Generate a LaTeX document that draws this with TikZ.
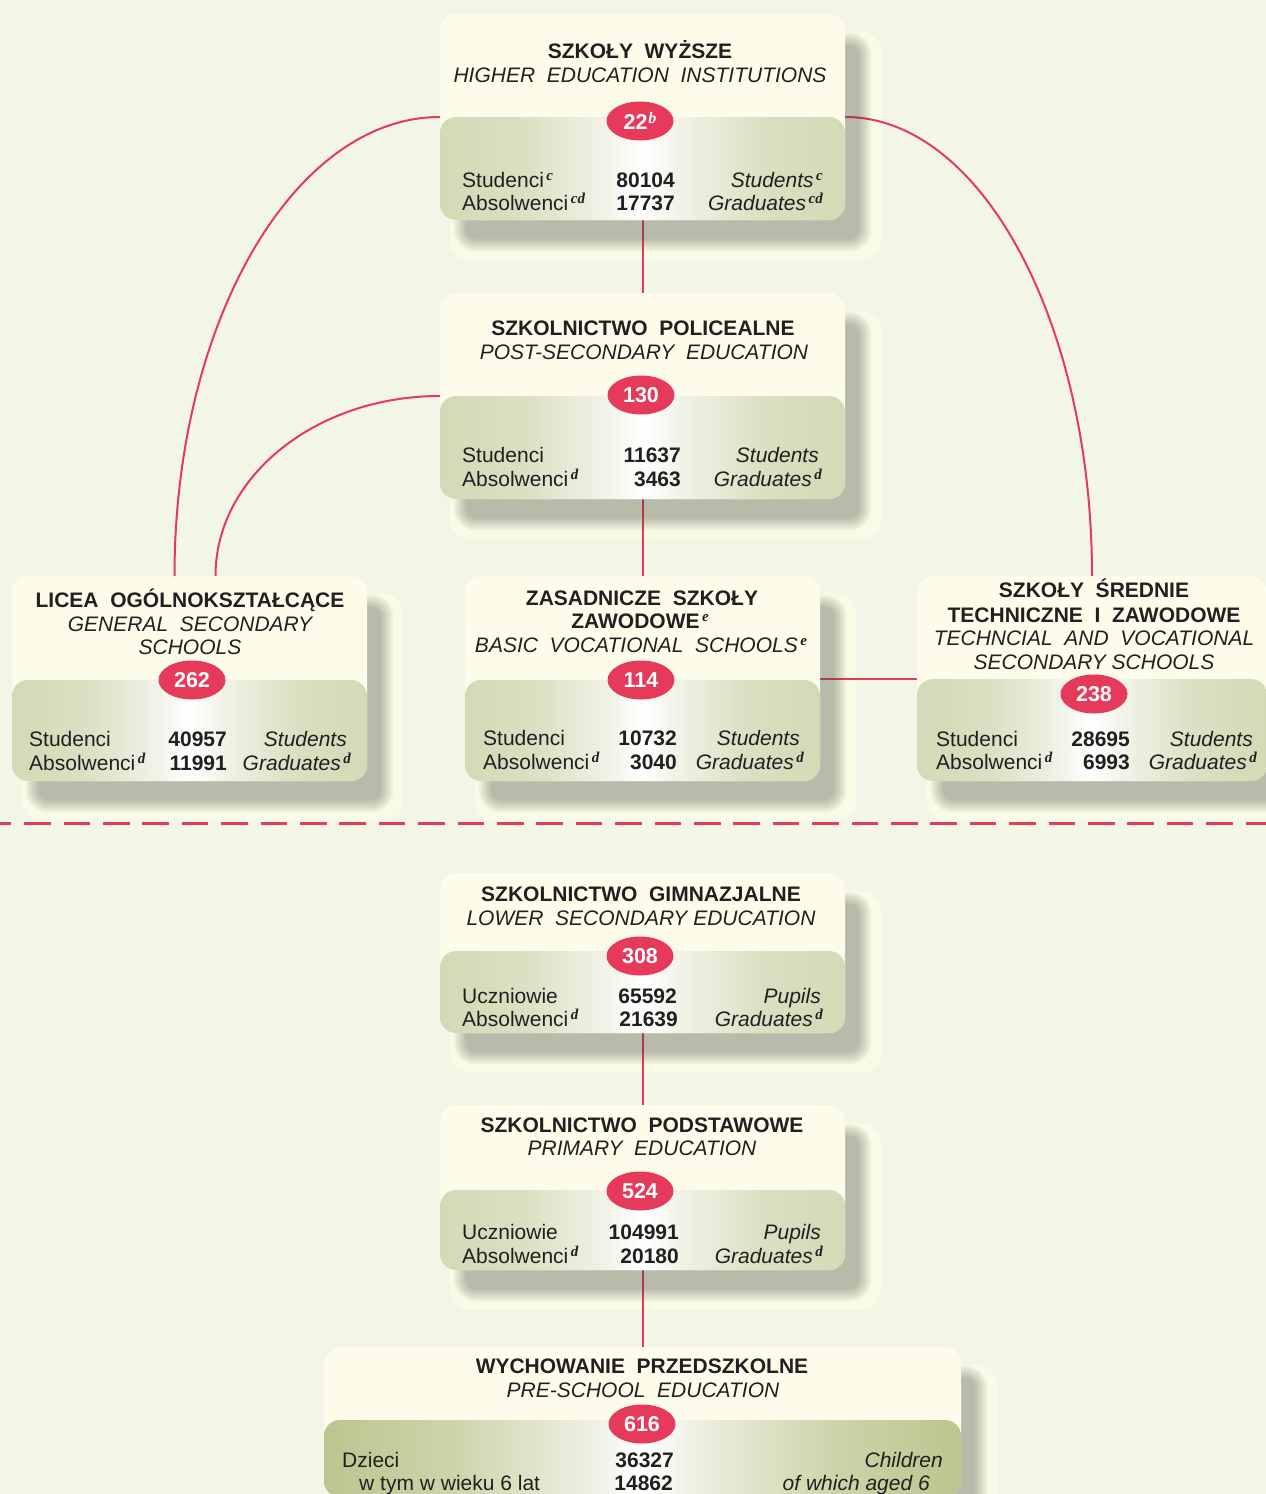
\documentclass[tikz,border=0pt]{standalone}
\usepackage{fontspec}
\setmainfont{Liberation Sans}
\newfontfamily\supfont{Liberation Serif}
\usetikzlibrary{shapes.geometric,calc}
\definecolor{bgc}{HTML}{F3F6E7}
\definecolor{glowc}{HTML}{F8FCE6}
\definecolor{cream}{HTML}{FDFCEA}
\definecolor{gA}{HTML}{D3DAB6}
\definecolor{gC}{HTML}{BCC58E}
\definecolor{redc}{HTML}{E63A5A}
\definecolor{txt}{HTML}{231F20}
\definecolor{shadc}{HTML}{3A3D33}
\pgfdeclarehorizontalshading{gradA}{100bp}{color(0bp)=(gA); color(25bp)=(gA); color(35bp)=(gA!85!white); color(45bp)=(gA!35!white); color(50bp)=(white); color(55bp)=(gA!35!white); color(65bp)=(gA!85!white); color(75bp)=(gA); color(100bp)=(gA)}
\pgfdeclarehorizontalshading{gradC}{100bp}{color(0bp)=(gC); color(25bp)=(gC); color(35bp)=(gC!75!white); color(45bp)=(gC!30!white); color(50bp)=(white); color(55bp)=(gC!30!white); color(65bp)=(gC!75!white); color(75bp)=(gC); color(100bp)=(gC)}
\newcommand\supx[1]{\hspace{2.5pt}\raisebox{7pt}{\supfont\bfseries\itshape\fontsize{15}{15}\selectfont #1}}
\pgfdeclarelayer{back}
\pgfdeclarelayer{conn}
\pgfdeclarelayer{shad}
\pgfsetlayers{back,conn,shad,main}
\tikzset{
  edubox/.style 2 args={rectangle, rounded corners=16pt, fill=cream, inner sep=0pt, draw=none,
    path picture={\shade[shading=#2] ([yshift=-#1pt]path picture bounding box.north west) rectangle (path picture bounding box.south east);}},
  tb/.style={anchor=base, inner sep=0pt, text=txt, font=\bfseries\fontsize{21}{24}\selectfont},
  ti/.style={anchor=base, inner sep=0pt, text=txt, font=\itshape\fontsize{21}{24}\selectfont},
  dl/.style={anchor=base west, inner sep=0pt, text=txt, font=\fontsize{21}{24}\selectfont},
  dn/.style={anchor=base east, inner sep=0pt, text=txt, font=\bfseries\fontsize{21}{24}\selectfont},
  dr/.style={anchor=base east, inner sep=0pt, text=txt, font=\itshape\fontsize{21}{24}\selectfont},
  oval/.style={ellipse, fill=redc, minimum width=67pt, minimum height=39pt, inner sep=0pt, text=white, font=\bfseries\fontsize{21.5}{22}\selectfont},
  conn/.style={draw=redc, line width=2pt},
  glow/.style={fill=glowc, rounded corners=20pt}
}
\begin{document}
\begin{tikzpicture}[x=1pt,y=1pt]
\useasboundingbox (0,0) rectangle (1266,-1494);
\begin{pgfonlayer}{back}
\fill[bgc] (0,0) rectangle (1266,-1494);
\end{pgfonlayer}

% boxes
\node[edubox={103}{gradA}, minimum width=405pt, minimum height=206pt] (b1) at (642.5,-117) {};
\node[edubox={103}{gradA}, minimum width=405pt, minimum height=206pt] (b2) at (642.5,-396) {};
\node[edubox={104}{gradA}, minimum width=355pt, minimum height=205pt] (b3) at (189.5,-678.5) {};
\node[edubox={104}{gradA}, minimum width=355pt, minimum height=205pt] (b4) at (642.5,-678.5) {};
\node[edubox={103}{gradA}, minimum width=350pt, minimum height=205pt] (b5) at (1092,-678.5) {};
\node[edubox={78}{gradA}, minimum width=405pt, minimum height=160pt] (b6) at (642.5,-953) {};
\node[edubox={85}{gradA}, minimum width=405pt, minimum height=165pt] (b7) at (642.5,-1187.5) {};
\node[edubox={73}{gradC}, minimum width=637pt, minimum height=150pt] (b8) at (642.5,-1422) {};

% glows
\begin{pgfonlayer}{back}
\foreach \b in {b1,b2,b3,b4,b5,b6,b7,b8}{
  \fill[glow] ($(\b.north west)+(10pt,-18pt)$) rectangle ($(\b.south east)+(36pt,-40pt)$);
}
\end{pgfonlayer}

% soft shadows
\begin{pgfonlayer}{shad}
\foreach \b in {b1,b2,b3,b4,b5,b6,b7,b8}{
  \foreach \k in {0,...,6}{
    \pgfmathsetmacro\rr{6-2*\k}
    \pgfmathsetmacro\rc{max(16+\rr,3)}
    \pgfmathsetmacro\xa{20-\rr}
    \pgfmathsetmacro\ya{-25+\rr}
    \pgfmathsetmacro\xb{20+\rr}
    \pgfmathsetmacro\yb{-25-\rr}
    \fill[shadc, fill opacity=0.053, rounded corners=\rc pt] ($(\b.north west)+(\xa pt,\ya pt)$) rectangle ($(\b.south east)+(\xb pt,\yb pt)$);
  }
}
\end{pgfonlayer}

% connectors
\begin{pgfonlayer}{conn}
\draw[conn] (b1.south) -- (b2.north);
\draw[conn] (b2.south) -- (b4.north);
\draw[conn] (b6.south) -- (b7.north);
\draw[conn] (b7.south) -- (b8.north);
\draw[conn] (b4.east) -- (b5.west);
\draw[conn] (b1.west) .. controls ($(b1.west)+(-146pt,0pt)$) and ($(b3.north)+(-15pt,253pt)$) .. ($(b3.north)+(-15pt,0pt)$);
\draw[conn] (b2.west) .. controls ($(b2.west)+(-124pt,0pt)$) and ($(b3.north)+(26pt,99pt)$) .. ($(b3.north)+(26pt,0pt)$);
\draw[conn] (b1.east) .. controls ($(b1.east)+(136pt,0pt)$) and ($(b5.north)+(0pt,253pt)$) .. (b5.north);
\coordinate (dashL) at (0,-823);
\coordinate (dashR) at (1266,-823);
\draw[redc, line width=3pt, dash pattern=on 26.7pt off 12.7pt, dash phase=15.3pt] (dashL) -- (dashR);
\end{pgfonlayer}

% box 1
\node[tb] (t1a) at (640,-58) {SZKOŁY~~WYŻSZE};
\node[ti] (t1b) at (640,-82) {HIGHER~~EDUCATION~~INSTITUTIONS};
\node[oval] (o1) at (640,-121) {22\hspace{1pt}\raisebox{6pt}{\supfont\bfseries\itshape\fontsize{16}{16}\selectfont b}};
\node[dl] (l1a) at (462,-187) {Studenci\supx{c}};
\node[dl] (l1b) at (462,-210) {Absolwenci\supx{cd}};
\node[dn] (n1a) at (675,-187) {80104};
\node[dn] (n1b) at (675,-210) {17737};
\node[dr] (r1a) at (823,-187) {Students\supx{c}};
\node[dr] (r1b) at (823,-210) {Graduates\supx{cd}};

% box 2
\node[tb] (t2a) at (643,-335) {SZKOLNICTWO~~POLICEALNE};
\node[ti] (t2b) at (644,-359) {POST-SECONDARY~~EDUCATION};
\node[oval] (o2) at (641,-395) {130};
\node[dl] (l2a) at (462,-462) {Studenci};
\node[dl] (l2b) at (462,-486) {Absolwenci\supx{d}};
\node[dn] (n2a) at (681,-462) {11637};
\node[dn] (n2b) at (681,-486) {3463};
\node[dr] (r2a) at (819,-462) {Students};
\node[dr] (r2b) at (822,-486) {Graduates\supx{d}};

% box 3
\node[tb] (t3a) at (190,-607) {LICEA~~OGÓLNOKSZTAŁCĄCE};
\node[ti] (t3b) at (190,-631) {GENERAL~~SECONDARY};
\node[ti] (t3c) at (190,-654) {SCHOOLS};
\node[oval] (o3) at (192,-680) {262};
\node[dl] (l3a) at (29,-746) {Studenci};
\node[dl] (l3b) at (29,-770) {Absolwenci\supx{d}};
\node[dn] (n3a) at (227,-746) {40957};
\node[dn] (n3b) at (227,-770) {11991};
\node[dr] (r3a) at (347,-746) {Students};
\node[dr] (r3b) at (351,-770) {Graduates\supx{d}};

% box 4
\node[tb] (t4a) at (642,-605) {ZASADNICZE~~SZKOŁY};
\node[tb] (t4b) at (640,-628) {ZAWODOWE\supx{e}};
\node[ti] (t4c) at (641,-652) {BASIC~~VOCATIONAL~~SCHOOLS\supx{e}};
\node[oval] (o4) at (641,-680) {114};
\node[dl] (l4a) at (483,-745) {Studenci};
\node[dl] (l4b) at (483,-769) {Absolwenci\supx{d}};
\node[dn] (n4a) at (677,-745) {10732};
\node[dn] (n4b) at (677,-769) {3040};
\node[dr] (r4a) at (800,-745) {Students};
\node[dr] (r4b) at (804,-769) {Graduates\supx{d}};

% box 5
\node[tb] (t5a) at (1094,-597) {SZKOŁY~~ŚREDNIE};
\node[tb] (t5b) at (1094,-622) {TECHNICZNE~~I~~ZAWODOWE};
\node[ti] (t5c) at (1094,-645) {TECHNCIAL~~AND~~VOCATIONAL};
\node[ti] (t5d) at (1094,-669) {SECONDARY SCHOOLS};
\node[oval] (o5) at (1094,-694) {238};
\node[dl] (l5a) at (936,-746) {Studenci};
\node[dl] (l5b) at (936,-769) {Absolwenci\supx{d}};
\node[dn] (n5a) at (1130,-746) {28695};
\node[dn] (n5b) at (1130,-769) {6993};
\node[dr] (r5a) at (1253,-746) {Students};
\node[dr] (r5b) at (1257,-769) {Graduates\supx{d}};

% box 6
\node[tb] (t6a) at (641,-901) {SZKOLNICTWO~~GIMNAZJALNE};
\node[ti] (t6b) at (641,-925) {LOWER~~SECONDARY EDUCATION};
\node[oval] (o6) at (640,-956) {308};
\node[dl] (l6a) at (462,-1003) {Uczniowie};
\node[dl] (l6b) at (462,-1026) {Absolwenci\supx{d}};
\node[dn] (n6a) at (677,-1003) {65592};
\node[dn] (n6b) at (678,-1026) {21639};
\node[dr] (r6a) at (821,-1003) {Pupils};
\node[dr] (r6b) at (823,-1026) {Graduates\supx{d}};

% box 7
\node[tb] (t7a) at (642,-1132) {SZKOLNICTWO~~PODSTAWOWE};
\node[ti] (t7b) at (642,-1155) {PRIMARY~~EDUCATION};
\node[oval] (o7) at (640,-1191) {524};
\node[dl] (l7a) at (462,-1239) {Uczniowie};
\node[dl] (l7b) at (462,-1263) {Absolwenci\supx{d}};
\node[dn] (n7a) at (679,-1239) {104991};
\node[dn] (n7b) at (679,-1263) {20180};
\node[dr] (r7a) at (821,-1239) {Pupils};
\node[dr] (r7b) at (823,-1263) {Graduates\supx{d}};

% box 8
\node[tb] (t8a) at (642,-1373) {WYCHOWANIE~~PRZEDSZKOLNE};
\node[ti] (t8b) at (643,-1397) {PRE-SCHOOL~~EDUCATION};
\node[oval] (o8) at (642,-1424) {616};
\node[dl] (l8a) at (342,-1467) {Dzieci};
\node[dl] (l8b) at (359,-1490) {w tym w wieku 6 lat};
\node[dn] (n8a) at (674,-1467) {36327};
\node[dn] (n8b) at (673,-1490) {14862};
\node[dr] (r8a) at (943,-1467) {Children};
\node[dr] (r8b) at (930,-1490) {of which aged 6};
\end{tikzpicture}
\end{document}
